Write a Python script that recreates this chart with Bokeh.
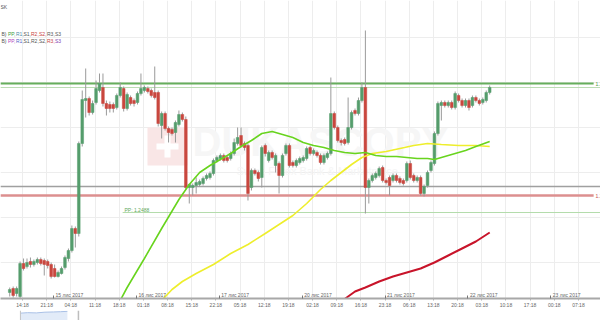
from bokeh.plotting import figure
from bokeh.models import Range1d, FixedTicker, Span, Label, ColumnDataSource, BoxAnnotation
from bokeh.layouts import column
from bokeh.embed import file_html
from bokeh.resources import INLINE

# ---------------- data ----------------
candle_index = list(range(-4, 136))

open_ = [
    1.2408, 1.2412, 1.2407, 1.2404, 1.2437, 1.2434, 1.2439, 1.2436, 1.2438, 1.2441,
    1.2440, 1.2439, 1.2436, 1.2432, 1.2424, 1.2427, 1.2433, 1.2442, 1.2450, 1.2472,
    1.2467, 1.2557, 1.2600, 1.2602, 1.2588, 1.2598, 1.2610, 1.2613, 1.2597, 1.2596,
    1.2596, 1.2593, 1.2605, 1.2612, 1.2592, 1.2603, 1.2600, 1.2598, 1.2607, 1.2610,
    1.2612, 1.2610, 1.2608, 1.2608, 1.2575, 1.2587, 1.2572, 1.2571, 1.2568, 1.2576,
    1.2586, 1.2581, 1.2513, 1.2513, 1.2515, 1.2516, 1.2517, 1.2522, 1.2523, 1.2527,
    1.2540, 1.2542, 1.2545, 1.2543, 1.2542, 1.2547, 1.2557, 1.2565, 1.2557, 1.2555,
    1.2513, 1.2530, 1.2528, 1.2523, 1.2555, 1.2540, 1.2548, 1.2535, 1.2537, 1.2525,
    1.2547, 1.2555, 1.2538, 1.2535, 1.2538, 1.2540, 1.2542, 1.2553, 1.2547, 1.2548,
    1.2545, 1.2538, 1.2543, 1.2547, 1.2587, 1.2573, 1.2560, 1.2561, 1.2558, 1.2573,
    1.2590, 1.2587, 1.2600, 1.2613, 1.2513, 1.2520, 1.2523, 1.2525, 1.2533, 1.2520,
    1.2523, 1.2520, 1.2525, 1.2522, 1.2520, 1.2520, 1.2537, 1.2525, 1.2520, 1.2523,
    1.2507, 1.2515, 1.2530, 1.2537, 1.2567, 1.2595, 1.2598, 1.2595, 1.2598, 1.2593,
    1.2605, 1.2600, 1.2595, 1.2600, 1.2595, 1.2603, 1.2600, 1.2598, 1.2600, 1.2608,
]
high = [
    1.2413, 1.2414, 1.2414, 1.2439, 1.2442, 1.2442, 1.2443, 1.2441, 1.2443, 1.2443,
    1.2442, 1.2441, 1.2438, 1.2436, 1.2430, 1.2434, 1.2445, 1.2452, 1.2475, 1.2474,
    1.2559, 1.2610, 1.2632, 1.2604, 1.2600, 1.2620, 1.2627, 1.2627, 1.2600, 1.2599,
    1.2598, 1.2607, 1.2618, 1.2614, 1.2608, 1.2605, 1.2602, 1.2609, 1.2627, 1.2615,
    1.2614, 1.2612, 1.2634, 1.2610, 1.2589, 1.2589, 1.2574, 1.2573, 1.2580, 1.2590,
    1.2588, 1.2584, 1.2517, 1.2517, 1.2523, 1.2521, 1.2524, 1.2527, 1.2529, 1.2542,
    1.2545, 1.2547, 1.2547, 1.2545, 1.2549, 1.2562, 1.2573, 1.2573, 1.2559, 1.2557,
    1.2532, 1.2532, 1.2530, 1.2555, 1.2557, 1.2550, 1.2550, 1.2547, 1.2539, 1.2547,
    1.2557, 1.2557, 1.2540, 1.2542, 1.2544, 1.2545, 1.2554, 1.2555, 1.2552, 1.2550,
    1.2547, 1.2547, 1.2549, 1.2623, 1.2589, 1.2575, 1.2562, 1.2563, 1.2603, 1.2590,
    1.2592, 1.2603, 1.2618, 1.2670, 1.2522, 1.2527, 1.2529, 1.2534, 1.2535, 1.2522,
    1.2525, 1.2527, 1.2527, 1.2524, 1.2522, 1.2539, 1.2540, 1.2527, 1.2525, 1.2525,
    1.2516, 1.2530, 1.2540, 1.2569, 1.2599, 1.2600, 1.2600, 1.2600, 1.2600, 1.2609,
    1.2607, 1.2602, 1.2602, 1.2602, 1.2605, 1.2605, 1.2602, 1.2603, 1.2610, 1.2615,
]
low = [
    1.2404, 1.2403, 1.2404, 1.2400, 1.2430, 1.2432, 1.2433, 1.2434, 1.2436, 1.2435,
    1.2425, 1.2432, 1.2422, 1.2423, 1.2423, 1.2426, 1.2431, 1.2439, 1.2448, 1.2453,
    1.2464, 1.2554, 1.2583, 1.2585, 1.2586, 1.2596, 1.2608, 1.2594, 1.2585, 1.2588,
    1.2588, 1.2591, 1.2603, 1.2589, 1.2590, 1.2595, 1.2594, 1.2596, 1.2605, 1.2608,
    1.2607, 1.2603, 1.2601, 1.2574, 1.2562, 1.2570, 1.2558, 1.2565, 1.2558, 1.2574,
    1.2579, 1.2511, 1.2497, 1.2505, 1.2507, 1.2514, 1.2515, 1.2520, 1.2521, 1.2525,
    1.2538, 1.2540, 1.2538, 1.2538, 1.2540, 1.2545, 1.2555, 1.2553, 1.2550, 1.2500,
    1.2510, 1.2525, 1.2519, 1.2513, 1.2544, 1.2538, 1.2541, 1.2528, 1.2507, 1.2523,
    1.2545, 1.2533, 1.2533, 1.2533, 1.2536, 1.2538, 1.2540, 1.2545, 1.2545, 1.2543,
    1.2536, 1.2536, 1.2541, 1.2545, 1.2571, 1.2558, 1.2555, 1.2555, 1.2556, 1.2571,
    1.2585, 1.2585, 1.2598, 1.2487, 1.2497, 1.2518, 1.2521, 1.2523, 1.2518, 1.2516,
    1.2505, 1.2518, 1.2518, 1.2516, 1.2515, 1.2518, 1.2521, 1.2518, 1.2518, 1.2505,
    1.2504, 1.2513, 1.2528, 1.2535, 1.2565, 1.2580, 1.2593, 1.2593, 1.2591, 1.2591,
    1.2598, 1.2593, 1.2593, 1.2590, 1.2593, 1.2598, 1.2595, 1.2596, 1.2598, 1.2606,
]
close = [
    1.2411, 1.2405, 1.2412, 1.2437, 1.2432, 1.2438, 1.2436, 1.2439, 1.2441, 1.2437,
    1.2436, 1.2435, 1.2424, 1.2424, 1.2428, 1.2432, 1.2443, 1.2450, 1.2472, 1.2467,
    1.2557, 1.2601, 1.2602, 1.2588, 1.2597, 1.2612, 1.2617, 1.2597, 1.2592, 1.2592,
    1.2592, 1.2605, 1.2613, 1.2592, 1.2606, 1.2597, 1.2597, 1.2607, 1.2612, 1.2613,
    1.2609, 1.2605, 1.2603, 1.2577, 1.2587, 1.2572, 1.2568, 1.2567, 1.2578, 1.2586,
    1.2581, 1.2513, 1.2516, 1.2515, 1.2518, 1.2519, 1.2522, 1.2525, 1.2527, 1.2540,
    1.2543, 1.2545, 1.2540, 1.2540, 1.2547, 1.2558, 1.2563, 1.2555, 1.2553, 1.2507,
    1.2530, 1.2527, 1.2522, 1.2553, 1.2547, 1.2548, 1.2543, 1.2545, 1.2525, 1.2545,
    1.2555, 1.2535, 1.2535, 1.2540, 1.2542, 1.2543, 1.2552, 1.2547, 1.2550, 1.2545,
    1.2538, 1.2545, 1.2547, 1.2587, 1.2573, 1.2560, 1.2558, 1.2557, 1.2573, 1.2588,
    1.2587, 1.2600, 1.2613, 1.2513, 1.2520, 1.2525, 1.2527, 1.2532, 1.2520, 1.2518,
    1.2515, 1.2525, 1.2520, 1.2518, 1.2517, 1.2537, 1.2523, 1.2520, 1.2523, 1.2507,
    1.2514, 1.2528, 1.2538, 1.2567, 1.2597, 1.2598, 1.2595, 1.2598, 1.2593, 1.2607,
    1.2600, 1.2595, 1.2600, 1.2593, 1.2603, 1.2600, 1.2597, 1.2601, 1.2608, 1.2613,
]

# moving averages (sampled at candle indices)
ma_green_idx = [26, 30, 35, 40, 45, 48, 51, 54, 57, 60, 63, 66, 69, 72, 75, 78, 81, 84,
                87, 90, 93, 96, 99, 102, 105, 108, 111, 114, 117, 119, 122, 125, 128, 131, 135]
ma_green_val = [1.2387, 1.2413, 1.2442, 1.2472, 1.2501, 1.2516, 1.2528, 1.2535, 1.2541,
                1.2547, 1.2554, 1.2560, 1.2567, 1.2569, 1.2566, 1.2563, 1.2558, 1.2555,
                1.2553, 1.2550, 1.2548, 1.2547, 1.2548, 1.2545, 1.2544, 1.2544, 1.2543,
                1.2542, 1.2542, 1.2541, 1.2544, 1.2547, 1.2550, 1.2554, 1.2559]
ma_yellow_idx = [36, 40, 43, 46, 50, 55, 60, 65, 70, 74, 78, 82, 86, 89, 92, 95, 98, 101,
                 105, 109, 113, 117, 121, 126, 131, 135]
ma_yellow_val = [1.2388, 1.2400, 1.2411, 1.2419, 1.2427, 1.2436, 1.2447, 1.2456, 1.2467,
                 1.2476, 1.2485, 1.2497, 1.2511, 1.2520, 1.2528, 1.2536, 1.2543, 1.2547,
                 1.2549, 1.2552, 1.2555, 1.2557, 1.2556, 1.2555, 1.2555, 1.2554]
ma_red_idx = [92, 94, 96, 99, 103, 107, 111, 115, 119, 123, 127, 131, 135]
ma_red_val = [1.2399, 1.2404, 1.2409, 1.2413, 1.2419, 1.2424, 1.2428, 1.2432, 1.2438,
              1.2445, 1.2452, 1.2459, 1.2468]

# pivot / support-resistance levels
level_price = [1.2617, 1.2613, 1.2514, 1.2505, 1.2488]
level_start = [-6.4, -6.4, -6.4, -6.4, 29.0]
level_end = [165.4, 167.4, 167.4, 165.4, 167.4]
level_color = ["#66ae5c", "#bcdcb4", "#a0a0a0", "#dc8f8f", "#b4dcac"]
level_width = [2, 1, 1.5, 2.5, 1]

# time axis
hour_ticks = list(range(0, 162, 7))
hour_labels = ["14:18", "21:18", "04:18", "11:18", "18:18", "01:18", "08:18", "15:18",
               "22:18", "05:18", "12:18", "19:18", "02:18", "09:18", "16:18", "23:18",
               "06:18", "13:18", "20:18", "03:18", "10:18", "17:18", "00:18", "07:18"]
date_ticks = [9, 33, 57, 81, 105, 129, 153]
date_labels = ["15 лис 2017", "16 лис 2017", "17 лис 2017", "20 лис 2017",
               "21 лис 2017", "22 лис 2017", "23 лис 2017"]
grid_prices = [1.2663, 1.2618, 1.2573, 1.2528, 1.2483, 1.2438]

# navigator series
nav_x = [-0.6, 1.5, 4.0, 6.5, 9.0, 11.0, 13.0]
nav_y = [7.8, 8.2, 8.0, 8.6, 8.8, 9.0, 9.3]

# ---------------- style ----------------
FONT = "Liberation Sans"
GREEN = "#559d6c"
RED = "#c9473e"
BAR_SHIFT = 0.3
FH = 298

p = figure(frame_width=600, frame_height=FH,
           x_range=Range1d(-6.371, 167.39), y_range=Range1d(1.2402, 1.2700),
           y_axis_location=None, toolbar_location=None, output_backend="svg",
           min_border=0, min_border_left=0, min_border_right=0, min_border_top=0)
p.outline_line_color = None
p.background_fill_color = "white"
p.border_fill_color = "white"

p.xgrid.grid_line_color = "#ededed"
p.ygrid.ticker = FixedTicker(ticks=grid_prices)
p.ygrid.grid_line_color = "#ededed"

ax = p.xaxis[0]
ax.ticker = FixedTicker(ticks=hour_ticks, minor_ticks=date_ticks)
ax.major_label_overrides = {t: s for t, s in zip(hour_ticks, hour_labels)}
ax.major_label_text_font_size = "5px"
ax.major_label_text_font = FONT
ax.major_label_text_color = "#666666"
ax.major_label_standoff = 1
ax.axis_line_color = "#a8a8a8"
ax.axis_line_width = 2
ax.major_tick_line_color = "#b0b0b0"
ax.major_tick_out = 2
ax.major_tick_in = 0
ax.minor_tick_line_color = "#777777"
ax.minor_tick_in = 3
ax.minor_tick_out = 0

def sy(py):
    return FH - py

# watermark
p.add_layout(BoxAnnotation(left=147, right=187, top=sy(127), bottom=sy(165),
                           left_units="screen", right_units="screen",
                           top_units="screen", bottom_units="screen",
                           fill_color="#f9e6e6", fill_alpha=1, line_alpha=0, level="underlay"))
p.add_layout(BoxAnnotation(left=164, right=170, top=sy(135), bottom=sy(157),
                           left_units="screen", right_units="screen",
                           top_units="screen", bottom_units="screen",
                           fill_color="white", fill_alpha=1, line_alpha=0, level="underlay"))
p.add_layout(BoxAnnotation(left=156, right=178, top=sy(143), bottom=sy(149),
                           left_units="screen", right_units="screen",
                           top_units="screen", bottom_units="screen",
                           fill_color="white", fill_alpha=1, line_alpha=0, level="underlay"))
p.add_layout(Label(x=192, y=sy(163), x_units="screen", y_units="screen", text="DUKASCOPY",
                   text_font=FONT, text_font_size="40px", text_font_style="bold",
                   text_color="#f6f6f6", text_baseline="bottom", level="underlay"))
p.add_layout(Label(x=236, y=sy(176), x_units="screen", y_units="screen",
                   text="Swiss Forex Bank & Marketplace",
                   text_font=FONT, text_font_size="11px",
                   text_color="#f5f5f5", text_baseline="bottom", level="underlay"))

# levels
p.segment(x0=level_start, x1=level_end, y0=level_price, y1=level_price,
          line_color=level_color, line_width=level_width)

# candles
xs = [i + BAR_SHIFT for i in candle_index]
src = ColumnDataSource(dict(
    x=xs, open=open_, high=high, low=low, close=close,
    top=[max(o, c) for o, c in zip(open_, close)],
    bottom=[min(o, c) for o, c in zip(open_, close)],
    color=[GREEN if c >= o else RED for o, c in zip(open_, close)],
))
p.segment(x0="x", y0="high", x1="x", y1="low", source=src, line_color="#9a9a9a", line_width=1)
p.vbar(x="x", width=0.78, top="top", bottom="bottom", source=src,
       fill_color="color", line_color="color", line_width=0.5)

# moving averages
p.line([i + BAR_SHIFT for i in ma_red_idx], ma_red_val, line_color="#c8142a", line_width=2)
p.line([i + BAR_SHIFT for i in ma_yellow_idx], ma_yellow_val, line_color="#eeee2c", line_width=1.6)
p.line([i + BAR_SHIFT for i in ma_green_idx], ma_green_val, line_color="#68d41e", line_width=1.6)

# level labels (cut by the window edge, as in the reference)
p.add_layout(Label(x=595, y=level_price[0], x_units="screen", text="1.2617",
                   text_font=FONT, text_font_size="5px", text_color="#4f9a48",
                   text_baseline="middle"))
p.add_layout(Label(x=595, y=level_price[3], x_units="screen", text="1.2505",
                   text_font=FONT, text_font_size="5px", text_color="#c85050",
                   text_baseline="middle"))
p.add_layout(Label(x=124, y=level_price[4], x_units="screen", text="PP: 1.2488",
                   text_font=FONT, text_font_size="5px", text_color="#5ea85a",
                   text_baseline="bottom", y_offset=0))

# date labels
for t, s in zip(date_ticks, date_labels):
    p.add_layout(Label(x=t, y=1, y_units="screen", x_offset=2, text=s,
                       text_font=FONT, text_font_size="5px", text_color="#666666",
                       text_baseline="bottom"))

# top-left texts
p.add_layout(Label(x=0, y=sy(6), x_units="screen", y_units="screen", text="SK",
                   text_font=FONT, text_font_size="5px", text_color="#555555",
                   text_baseline="middle"))
tokens = ["B)", "PP,", "R1,", "S1,", "R2,", "S2,", "R3,", "S3"]
tok_x = [1, 7.5, 15.5, 23, 30.5, 38.5, 46.5, 54.5]
row1_colors = ["#555555", "#3c9c3c", "#4a8aa8", "#555555", "#c84040", "#c84040", "#555555", "#555555"]
row2_colors = ["#555555", "#b040c0", "#5060c8", "#555555", "#555555", "#555555", "#c84040", "#8040b0"]
for row_py, cols in ((33, row1_colors), (40, row2_colors)):
    for tx, tk, col in zip(tok_x, tokens, cols):
        p.add_layout(Label(x=tx, y=sy(row_py), x_units="screen", y_units="screen", text=tk,
                           text_font=FONT, text_font_size="5px", text_color=col,
                           text_baseline="middle"))

# navigator
nav = figure(frame_width=600, frame_height=12, x_range=p.x_range, y_range=Range1d(0, 10),
             x_axis_location=None, y_axis_location=None, toolbar_location=None,
             output_backend="svg", min_border=0)
nav.outline_line_color = None
nav.grid.visible = False
nav.varea(x=nav_x, y1=0, y2=nav_y, fill_color="#e2ebf8")
nav.line(nav_x, nav_y, line_color="#a9c0e6", line_width=1)
nav.add_layout(Span(location=-0.6, dimension="height", line_color="#c4c4c4", line_width=1))
nav.add_layout(Span(location=16.2, dimension="height", line_color="#bdbdbd", line_width=1.5))

layout = column(p, nav, spacing=0)
open("out.html", "w").write(file_html(layout, INLINE))
